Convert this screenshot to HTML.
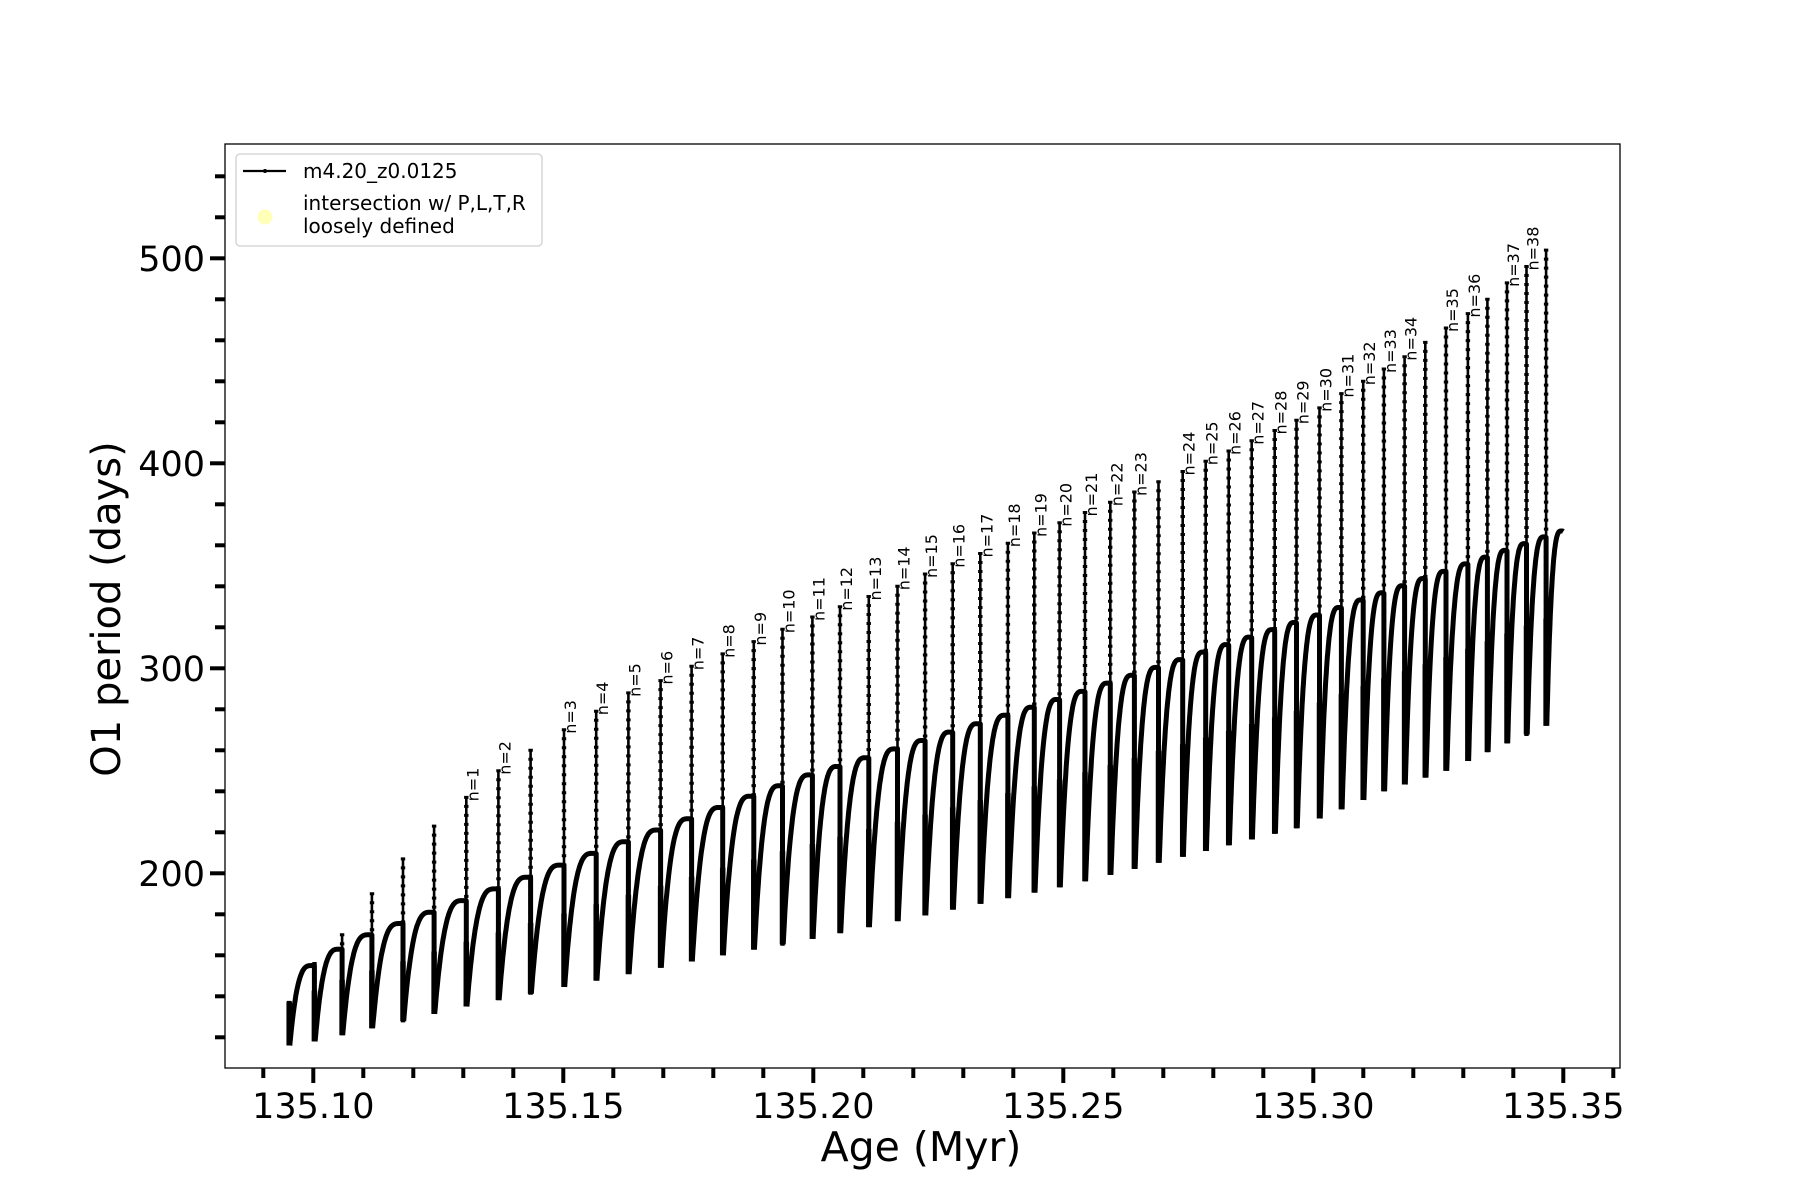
<!DOCTYPE html>
<html><head><meta charset="utf-8"><style>
html,body{margin:0;padding:0;background:#fff;}
svg{display:block;font-family:"DejaVu Sans","Liberation Sans",sans-serif;}
</style></head><body>
<svg id="s" width="1800" height="1200" viewBox="0 0 1800 1200" xmlns="http://www.w3.org/2000/svg">
<rect x="0" y="0" width="1800" height="1200" fill="#fff"/>
<g id="data"></g>
<rect x="225" y="144" width="1395" height="924" fill="none" stroke="#000" stroke-width="1.3"/>
<g id="ticks" stroke="#000"></g>
<g id="tl" font-size="35" fill="#000"></g>
<text x="921" y="1161" font-size="41" text-anchor="middle">Age (Myr)</text>
<text transform="translate(120,609) rotate(-90)" font-size="40" text-anchor="middle">O1 period (days)</text>
<rect x="236" y="154" width="306" height="92" rx="4" fill="#fff" fill-opacity="0.85" stroke="#d0d0d0" stroke-width="1.3"/>
<line x1="243" y1="171" x2="286" y2="171" stroke="#000" stroke-width="2.2"/>
<circle cx="265" cy="171" r="2" fill="#000"/>
<circle cx="265" cy="217" r="7.5" fill="#ffffa0" fill-opacity="0.75"/>
<g font-size="20" fill="#000">
<text x="303" y="178">m4.20_z0.0125</text>
<text x="303" y="210">intersection w/ P,L,T,R</text>
<text x="303" y="233">loosely defined</text>
</g>
</svg>
<script>
(function(){
var NS="http://www.w3.org/2000/svg";
function el(t,a,p){var e=document.createElementNS(NS,t);for(var k in a)e.setAttribute(k,a[k]);p.appendChild(e);return e;}
var ax=function(d){return 313.3+(d-273)*1.15;};
var Y=function(v){return 873.3-(v-200)*2.05;};
function interp(pts,x){if(x<=pts[0][0])return pts[0][1];for(var i=1;i<pts.length;i++){if(x<=pts[i][0]){var a=pts[i-1],b=pts[i];return a[1]+(b[1]-a[1])*(x-a[0])/(b[0]-a[0]);}}var a=pts[pts.length-2],b=pts[pts.length-1];return a[1]+(b[1]-a[1])*(x-a[0])/(b[0]-a[0]);}
var mins=[[252,116],[274,118],[406,135],[629,160],[707,168],[929,194],[1128,222],[1204,240],[1258,250],[1345,272]];
var plat=[[274,155],[298,163],[324,170],[491,204],[707,248],[929,286],[1148,326],[1360,367]];
var sp=[[252,137],[274,156],[298,170],[324,190],[351,207],[378,223],
[406,237,1],[434,250,2],[462,260],[491,270,3],[519,279,4],[547,288,5],[575,294,6],[602,301,7],[629,307,8],[656,313,9],[681,319,10],[707,325,11],[731,330,12],[756,335,13],[781,340,14],[805,346,15],[829,351,16],[853,356,17],[877,361,18],[900,366,19],[922,371,20],[944,376,21],[966,381,22],[987,386,23],[1008,391],[1029,396,24],[1049,401,25],[1069,406,26],[1089,411,27],[1109,416,28],[1128,421,29],[1148,427,30],[1167,434,31],[1186,440,32],[1204,446,33],[1222,452,34],[1240,459],[1258,466,35],[1277,473,36],[1294,480],[1311,488,37],[1328,496,38],[1345,504]];
var g=document.getElementById('data');
var d="",dd="",ds="",dots="";
for(var i=0;i<sp.length;i++){
 var x0=sp[i][0],x1=(i+1<sp.length)?sp[i+1][0]:1360;
 var m=interp(mins,x0),p=interp(plat,x1);
 var mid=m+(p-m)*0.55;
 var X0=ax(x0);
 ds+="M"+X0.toFixed(1)+","+Y(m).toFixed(1)+"V"+Y(sp[i][1]).toFixed(1);
 dd+="M"+X0.toFixed(1)+","+Y(m).toFixed(1)+"V"+Y(mid).toFixed(1);
 for(var yy=Y(sp[i][1]);yy<Y(m);yy+=9){dots+="M"+(X0-2.2).toFixed(1)+","+yy.toFixed(1)+"h4.4";}
 var N=50;
 for(var k=0;k<=N;k++){var t=k/N;var gg=1-Math.pow(Math.abs(1-t/0.88),3);
  var xx=ax(x0+0.6+(x1-x0-0.6)*t),vv=m+(p-m)*gg;
  d+=(k==0?"M":"L")+xx.toFixed(1)+","+Y(vv).toFixed(1);}
 if(i+1<sp.length){var mn=interp(mins,x1);d+="L"+ax(x1).toFixed(1)+","+Y(mn).toFixed(1);}
 if(sp[i][2]){var tx=X0+12,ty=Y(sp[i][1])+4;
  var t=el('text',{transform:"translate("+tx.toFixed(1)+","+ty.toFixed(1)+") rotate(-90)","font-size":"16",fill:"#000"},g);t.textContent="n="+sp[i][2];}
}
el('path',{d:d,fill:"none",stroke:"#000","stroke-width":"5","stroke-linejoin":"round"},g);
el('path',{d:dd,fill:"none",stroke:"#000","stroke-width":"5.5"},g);
el('path',{d:ds,fill:"none",stroke:"#000","stroke-width":"2.6"},g);
el('path',{d:dots,fill:"none",stroke:"#000","stroke-width":"3"},g);
var tk=document.getElementById('ticks'),tl=document.getElementById('tl');
for(var j=9;j<=36;j++){var x=313.3+(j-10)*50;var maj=(j%5==0);
 el('line',{x1:x,y1:1068,x2:x,y2:1068+(maj?15:10),"stroke-width":"4"},tk);
 if(maj){var t=el('text',{x:x,y:1118,"text-anchor":"middle"},tl);t.textContent="135."+(j<10?"0"+j:j);}}
for(var v=120;v<=540;v+=20){var y=Y(v);var maj=(v%100==0);
 el('line',{x1:225,y1:y,x2:225-(maj?15:10),y2:y,"stroke-width":"4"},tk);
 if(maj){var t=el('text',{x:205,y:y+12.5,"text-anchor":"end"},tl);t.textContent=v;}}
})();
</script>
</body></html>
